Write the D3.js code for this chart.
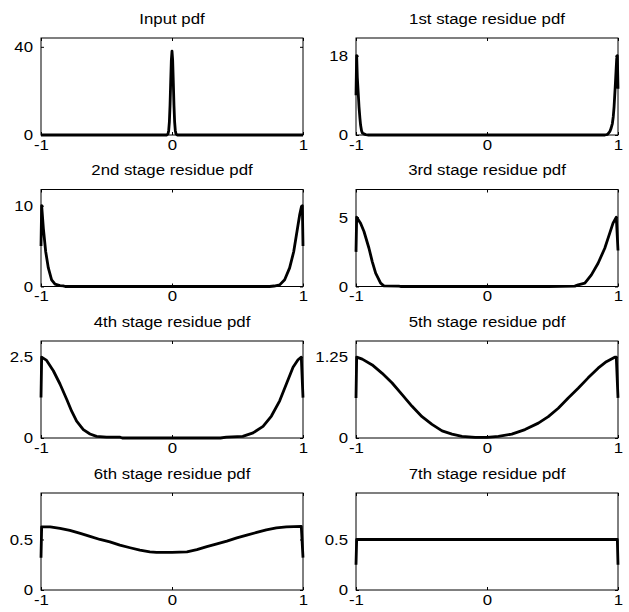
<!DOCTYPE html>
<html>
<head>
<meta charset="utf-8">
<script src="https://cdn.jsdelivr.net/npm/d3@7"></script>
<style>
  html, body { margin: 0; padding: 0; background: #fff; }
  svg text { font-family: "Liberation Sans", Arial, sans-serif; fill: #000; }
</style>
</head>
<body>
<svg id="chart"></svg>
<script>
// pdf of the residue after each pipeline stage

const titles = [
  'Input pdf', '1st stage residue pdf',
  '2nd stage residue pdf', '3rd stage residue pdf',
  '4th stage residue pdf', '5th stage residue pdf',
  '6th stage residue pdf', '7th stage residue pdf'
];
const xTicks = [-1, 0, 1];
const yTickSets = [[0, 40], [0, 18], [0, 10], [0, 5], [0, 2.5], [0, 1.25], [0, 0.5], [0, 0.5]];
const yMaxes = [44, 22, 12, 7, 3, 1.5, 0.96, 0.96];

const input_x = [-1, -0.04, -0.03, -0.025, -0.02, -0.015, -0.01, -0.005, 0, 0.005, 0.01, 0.015, 0.02, 0.025, 0.03, 0.04, 1];
const input_y = [0, 0, 0.6, 2.2, 6, 13.5, 24, 34, 38, 34, 24, 13.5, 6, 2.2, 0.6, 0, 0];

const stage1_x = [-1, -0.995, -0.99, -0.983, -0.977, -0.97, -0.965, -0.958, -0.952, -0.94, -0.926, -0.91, 0.9, 0.92, 0.937, 0.947, 0.957, 0.964, 0.97, 0.975, 0.98, 0.985, 0.99, 0.995, 1];
const stage1_y = [9, 18, 13.1, 9.5, 6.4, 3.8, 2.25, 1.0, 0.5, 0.25, 0.1, 0, 0, 0.15, 0.75, 1.5, 2.6, 4.2, 6.4, 9, 11.6, 14.5, 17.3, 18, 10.5];

const stage2_x = [-1, -0.995, -0.982, -0.964, -0.944, -0.919, -0.893, -0.855, -0.83, -0.815, 0.745, 0.78, 0.822, 0.86, 0.898, 0.929, 0.954, 0.975, 0.987, 0.995, 1];
const stage2_y = [5, 10, 7.2, 4.3, 2.3, 0.83, 0.29, 0.12, 0.08, 0, 0, 0.06, 0.2, 0.83, 2.3, 4.3, 6.8, 8.9, 9.8, 10, 5];

const stage3_x = [-1, -0.995, -0.965, -0.939, -0.901, -0.876, -0.85, -0.812, -0.787, -0.673, -0.66, 0.468, 0.67, 0.696, 0.747, 0.797, 0.848, 0.899, 0.937, 0.962, 0.987, 1];
const stage3_y = [2.5, 5, 4.57, 3.97, 2.76, 1.8, 0.96, 0.24, 0.05, 0.03, 0, 0, 0.03, 0.12, 0.24, 0.84, 1.68, 2.76, 3.85, 4.57, 5.0, 2.6];

const stage4_x = [-1, -0.995, -0.957, -0.906, -0.855, -0.804, -0.766, -0.728, -0.677, -0.626, -0.576, -0.5, -0.4, -0.38, 0.37, 0.415, 0.54, 0.619, 0.695, 0.759, 0.822, 0.873, 0.924, 0.962, 0.987, 1];
const stage4_y = [1.25, 2.5, 2.4, 2.08, 1.67, 1.2, 0.83, 0.52, 0.26, 0.125, 0.05, 0.03, 0.03, 0, 0, 0.03, 0.05, 0.16, 0.36, 0.68, 1.15, 1.67, 2.19, 2.42, 2.5, 1.25];

const stage5_x = [-1, -0.995, -0.952, -0.876, -0.8, -0.724, -0.648, -0.572, -0.496, -0.42, -0.343, -0.267, -0.191, -0.09, 0, 0.087, 0.189, 0.29, 0.392, 0.468, 0.544, 0.62, 0.696, 0.772, 0.848, 0.911, 0.975, 0.987, 1];
const stage5_y = [0.62, 1.25, 1.22, 1.13, 1.0, 0.85, 0.67, 0.49, 0.33, 0.21, 0.11, 0.06, 0.026, 0.01, 0.01, 0.026, 0.06, 0.13, 0.23, 0.33, 0.46, 0.62, 0.77, 0.93, 1.08, 1.18, 1.25, 1.25, 0.62];

const stage6_x = [-1, -0.995, -0.93, -0.855, -0.78, -0.70, -0.626, -0.55, -0.474, -0.398, -0.32, -0.245, -0.169, -0.118, 0, 0.114, 0.19, 0.266, 0.343, 0.419, 0.495, 0.571, 0.647, 0.72, 0.797, 0.873, 0.987, 1];
const stage6_y = [0.32, 0.625, 0.625, 0.61, 0.59, 0.56, 0.53, 0.5, 0.477, 0.444, 0.418, 0.395, 0.378, 0.372, 0.372, 0.378, 0.40, 0.43, 0.457, 0.484, 0.516, 0.543, 0.57, 0.595, 0.615, 0.625, 0.63, 0.32];

const stage7_x = [-1, -0.995, 0.995, 1];
const stage7_y = [0.25, 0.5, 0.5, 0.25];

const seriesX = [input_x, stage1_x, stage2_x, stage3_x, stage4_x, stage5_x, stage6_x, stage7_x];
const seriesY = [input_y, stage1_y, stage2_y, stage3_y, stage4_y, stage5_y, stage6_y, stage7_y];

// ── Layout ──────────────────────────────────────────────────────────────────
const W = 629, H = 612;
const colLeft = [41, 356];
const rowTop = [38, 189.5, 341, 493];
const pw = 262, ph = 97;
const FS = 15;        // font size
const SX = 1.12;      // the original text is a bit wider than Arial

const svg = d3.select('#chart').attr('width', W).attr('height', H);

titles.forEach((title, i) => {
    const col = i % 2, row = Math.floor(i / 2);
    const g = svg.append('g').attr('transform', `translate(${colLeft[col]},${rowTop[row]})`);

    const x = d3.scaleLinear().domain([-1, 1]).range([0, pw]);
    const y = d3.scaleLinear().domain([0, yMaxes[i]]).range([ph, 0]);

    // Curve
    const pts = seriesX[i].map((v, k) => [v, seriesY[i][k]]);
    g.append('path')
        .datum(pts)
        .attr('fill', 'none')
        .attr('stroke', '#000')
        .attr('stroke-width', 2.8)
        .attr('stroke-linejoin', 'round')
        .attr('d', d3.line().x(d => x(d[0])).y(d => y(d[1])));

    // Axes, ticks pointing inward
    const bottom = g.append('g').attr('transform', `translate(0,${ph})`)
        .call(d3.axisBottom(x).tickValues(xTicks).tickSizeInner(-3).tickSizeOuter(0).tickPadding(4).tickFormat(d => String(d)));
    g.append('g')
        .call(d3.axisTop(x).tickValues(xTicks).tickSizeInner(-3).tickSizeOuter(0).tickFormat(''));
    const left = g.append('g')
        .call(d3.axisLeft(y).tickValues(yTickSets[i]).tickSizeInner(-3).tickSizeOuter(0).tickPadding(8).tickFormat(d => String(d)));
    g.append('g').attr('transform', `translate(${pw},0)`)
        .call(d3.axisRight(y).tickValues(yTickSets[i]).tickSizeInner(-3).tickSizeOuter(0).tickFormat(''));

    g.selectAll('.domain').remove();
    g.selectAll('.tick line').attr('stroke', '#000');

    bottom.selectAll('text')
        .attr('font-size', FS)
        .attr('transform', `scale(${SX},1)`);
    left.selectAll('text')
        .attr('font-size', FS)
        .attr('x', -8 / SX)
        .attr('transform', `scale(${SX},1)`);

    // Box
    g.append('rect')
        .attr('width', pw).attr('height', ph)
        .attr('fill', 'none').attr('stroke', '#000').attr('stroke-width', 1);

    // Title
    g.append('g').attr('transform', `translate(${pw / 2},-14.5) scale(${SX},1)`)
        .append('text')
        .attr('text-anchor', 'middle')
        .attr('font-size', FS)
        .text(title);
});
</script>
</body>
</html>
